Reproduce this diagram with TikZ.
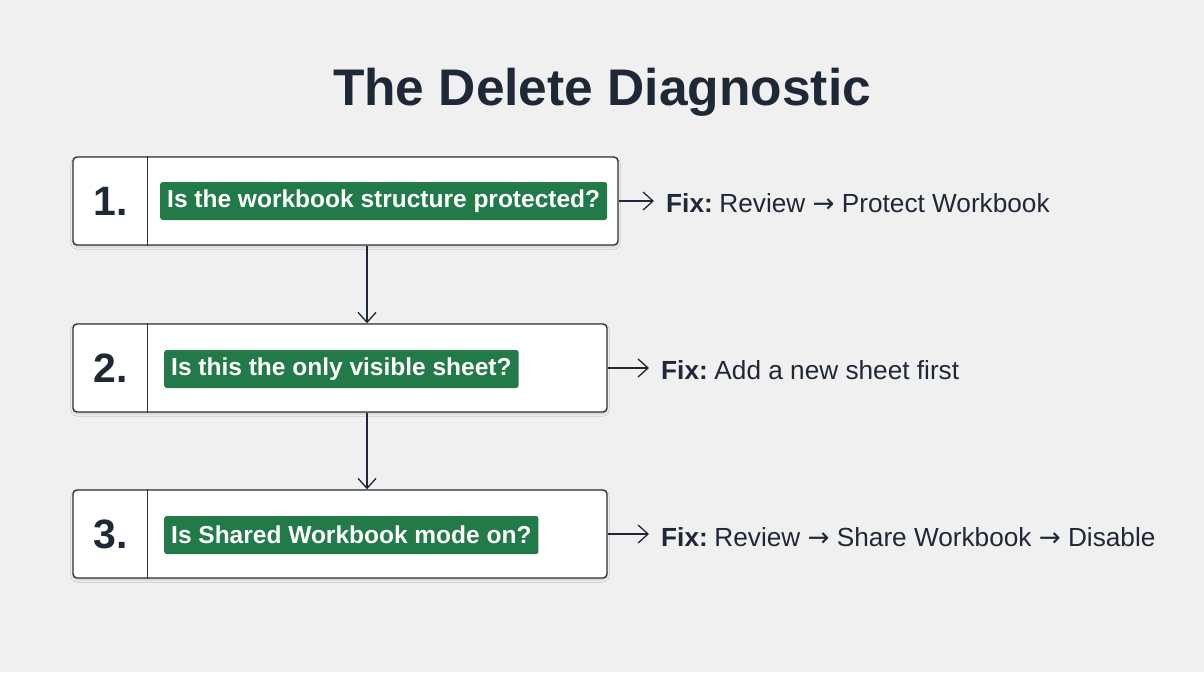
\documentclass[tikz,border=0pt]{standalone}
\usepackage{fontspec}
\setmainfont{Liberation Sans}
\newfontfamily\arrfont{DejaVu Sans}
\newcommand{\rarr}{{\arrfont →}}
\newcommand{\fixlbl}{\textbf{Fix:}\hspace{-3pt} }
\usetikzlibrary{arrows.meta,positioning,shadows.blur}
\definecolor{bg}{HTML}{F0F0F0}
\definecolor{ink}{HTML}{1E2837}
\definecolor{qgreen}{HTML}{227A48}
\definecolor{boxline}{HTML}{2A323E}
\tikzset{
  qbox/.style={draw=boxline, line width=1.4pt, fill=white, rounded corners=4pt, minimum height=88pt, inner sep=0pt,
     blur shadow={shadow xshift=0pt, shadow yshift=-2pt, shadow blur steps=6, shadow opacity=15}},
  numtxt/.style={font=\fontsize{41}{44}\selectfont\bfseries, text=ink},
  qlabel/.style={fill=qgreen, rounded corners=2.5pt, text=white, font=\fontsize{24.5}{28}\selectfont\bfseries, inner xsep=7pt, minimum height=38pt, anchor=west},
  fixtxt/.style={font=\fontsize{26.2}{30}\selectfont, text=ink, anchor=west, inner sep=0pt},
  conn/.style={draw=ink, line width=1.3pt, -{Straight Barb[length=10pt,width=18pt]}},
}
\begin{document}
\begin{tikzpicture}[x=1pt,y=-1pt]
\path[fill=bg] (0,0) rectangle (1204,672);
\useasboundingbox (0,0) rectangle (1204,672);

\node[font=\fontsize{51.5}{56}\selectfont\bfseries, text=ink] (title) at (602,92) {The Delete Diagnostic};

% boxes
\node[qbox, minimum width=545pt] (b1) at (345.5,201) {};
\node[qbox, minimum width=534pt] (b2) at (340,368) {};
\node[qbox, minimum width=534pt] (b3) at (340,534) {};

\foreach \b/\n in {b1/1, b2/2, b3/3}{
  \draw[boxline, line width=1.4pt] ([xshift=75pt]\b.north west) -- ([xshift=75pt]\b.south west);
  \node[numtxt] (n\n) at ([xshift=38pt]\b.west) {\n.};
}

\node[qlabel] (q1) at (160,201) {Is the workbook structure protected?};
\node[qlabel] (q2) at (164,369) {Is this the only visible sheet?};
\node[qlabel] (q3) at (164,535) {Is Shared Workbook mode on?};

\node[fixtxt] (f1) at (666,203) {\fixlbl Review \rarr{} Protect Workbook};
\node[fixtxt] (f2) at (661,370) {\fixlbl Add a new sheet first};
\node[fixtxt] (f3) at (661,537) {\fixlbl Review \rarr{} Share Workbook \rarr{} Disable};

\coordinate (ax) at (367,0);
\coordinate (e1) at (654,0);
\coordinate (e2) at (649,0);
\draw[conn] (b1.south -| ax) -- (b2.north -| ax);
\draw[conn] (b2.south -| ax) -- (b3.north -| ax);

\draw[conn] (b1.east) -- (b1.east -| e1);
\draw[conn] (b2.east) -- (b2.east -| e2);
\draw[conn] (b3.east) -- (b3.east -| e2);
\end{tikzpicture}
\end{document}
